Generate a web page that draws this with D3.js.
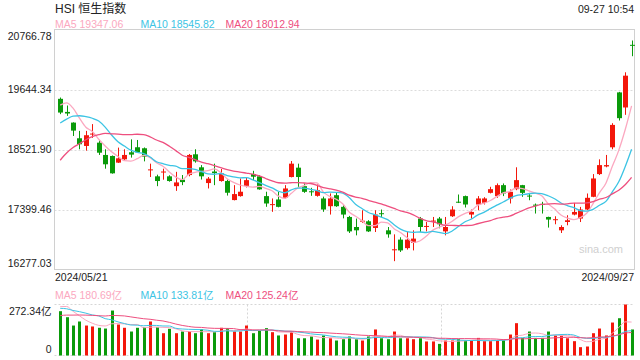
<!DOCTYPE html>
<html>
<head>
<meta charset="utf-8">
<script src="https://cdn.jsdelivr.net/npm/d3@7/dist/d3.min.js"></script>
<style>
    body { margin: 0; background: #fff; }
    svg { display: block; font-family: "Liberation Sans", Arial, "Noto Sans CJK SC", sans-serif; }
</style>
</head>
<body>
<div id="chart"></div>
<script>
// Daily candles, 2024/05/21 .. 2024/09/27 (HSI, points)
let opens = [19470, 19225, 19025, 18732, 18588, 18805, 18650, 18420, 18401, 18276,
    18338, 18470, 18564, 18545, 18134, 18020, 18095, 18020, 17836, 17957,
    18044, 18432, 18189, 17894, 18110, 17932, 17932, 17576, 17650, 17842,
    18063, 18020, 17650, 17485, 17587, 17618, 18007, 18182, 17836, 17740,
    17655, 17606, 17461, 17667, 17449, 17260, 17072, 17175, 17179, 17054,
    17330, 17010, 16640, 16836, 16677, 16773, 17230, 17078, 17178, 17230,
    16990, 17273, 17545, 17650, 17305, 17493, 17524, 17711, 17650, 17855,
    17606, 17780, 17855, 17660, 17490, 17505, 17260, 17205, 17010, 17166,
    17305, 17230, 17399, 17637, 18062, 18205, 18563, 19590, 19308, 20480];
let highs = [19494, 19345, 19030, 18870, 18870, 18997, 18700, 18526, 18410, 18557,
    18526, 18712, 18700, 18560, 18257, 18051, 18163, 18040, 18104, 18044,
    18438, 18526, 18230, 18007, 18257, 18157, 17960, 17855, 17980, 18000,
    18123, 18040, 17732, 17606, 17732, 17855, 18306, 18257, 17886, 17805,
    17867, 17640, 17700, 17710, 17480, 17280, 17230, 17385, 17200, 17385,
    17399, 17072, 16935, 16880, 16978, 17010, 17260, 17165, 17260, 17260,
    17260, 17461, 17680, 17660, 17399, 17650, 17630, 17824, 17887, 17887,
    17774, 18189, 17860, 17711, 17511, 17543, 17265, 17273, 17104, 17292,
    17523, 17448, 17699, 18062, 18338, 18420, 19014, 19600, 19966, 20561];
let lows = [19183, 19151, 18775, 18526, 18500, 18740, 18420, 18163, 18070, 18270,
    18326, 18370, 18465, 18300, 18007, 17836, 17957, 17920, 17748, 17855,
    18020, 18276, 17960, 17793, 17855, 17920, 17660, 17570, 17640, 17812,
    17949, 17770, 17450, 17356, 17440, 17606, 18000, 17823, 17711, 17655,
    17640, 17356, 17305, 17449, 17234, 16960, 16916, 17150, 16978, 16978,
    17260, 16872, 16433, 16605, 16650, 16634, 16978, 16990, 17072, 17048,
    16916, 17260, 17520, 17437, 17230, 17386, 17493, 17700, 17618, 17650,
    17512, 17761, 17637, 17573, 17324, 17324, 17061, 17123, 16960, 17104,
    17290, 17165, 17390, 17630, 18044, 18189, 18526, 19064, 19170, 20267];
let closes = [19213, 19195, 18875, 18620, 18789, 18820, 18462, 18245, 18076, 18357,
    18420, 18426, 18470, 18388, 18150, 17932, 18110, 17932, 17906, 17912,
    18420, 18300, 18020, 17977, 18080, 18076, 17713, 17688, 17732, 17949,
    18013, 17776, 17512, 17500, 17449, 17793, 18257, 18007, 17730, 17725,
    17761, 17399, 17606, 17461, 17305, 16990, 17010, 17190, 16990, 17305,
    17318, 16935, 16655, 16634, 16836, 16855, 17072, 17092, 17192, 17123,
    17072, 17399, 17526, 17493, 17354, 17606, 17606, 17780, 17855, 17700,
    17730, 17949, 17711, 17650, 17480, 17499, 17211, 17218, 17072, 17198,
    17354, 17399, 17618, 17980, 18230, 18230, 18982, 19108, 19903, 20467];
// turnover, 亿
let volumes = [236.6, 204.5, 160, 181.6, 160, 155, 148, 144, 240, 165.5,
    148, 128, 148, 151, 181.6, 151, 119, 142.6, 119, 128,
    130, 119, 140, 119, 124.5, 148, 146, 128, 128, 160,
    119, 133.5, 146, 124.5, 107, 112, 130, 92, 92, 101.5,
    85, 107, 92, 80, 87, 101.5, 87, 80, 101.5, 139,
    92, 87, 128, 92, 92, 87, 92, 75, 75, 62,
    80, 80, 87, 80, 80, 94, 76.5, 76.5, 80, 83.6,
    112, 172.6, 94, 128, 94, 94, 128, 107, 107, 92,
    76.5, 44.5, 48, 119, 144, 107, 176, 199, 272.34, 139];
// sessions before the first visible candle, only feed the moving averages
let priorCloses = [16511, 16828, 17201, 17284, 17651, 17747, 17763, 18207, 18476, 18578,
    18479, 18313, 18538, 18964, 19115, 18988, 19376, 19553, 19636];
let priorVolumes = [150, 160, 170, 175, 180, 185, 175, 180, 180, 185,
    230, 250, 245, 240, 250, 200, 290, 300, 278];

let priceTicks = [16277.03, 17399.46, 18521.90, 19644.34, 20766.78];
let volumeTicks = [0, 272.34];
let dateLabels = ['2024/05/21', '2024/09/27'];
let maPeriods = [5, 10, 20];
let priceLegend = ['MA5 19347.06', 'MA10 18545.82', 'MA20 18012.94'];
let volumeLegend = ['MA5 180.69亿', 'MA10 133.81亿', 'MA20 125.24亿'];

let maColors = ['#fba8c0', '#3cc4e4', '#ee4f7f'];
let upColor = '#f3170b';
let downColor = '#0a9a0a';

let svgWidth = 640;
let svgHeight = 360;
let plot = { left: 54.5, right: 634.5, top: 29.5, bottom: 269.5 };
let volPlot = { top: 304.5, bottom: 355.5 };

let $svg = d3.select('#chart')
    .append('svg')
    .attr('width', svgWidth)
    .attr('height', svgHeight);

let n = closes.length;
let idx = d3.range(n);

let xScale = d3.scaleBand()
    .domain(idx)
    .range([57, 634.8]);
let cx = i => xScale(i) + xScale.bandwidth() / 2;
let bodyW = 5;

let yScale = d3.scaleLinear()
    .domain([priceTicks[0], priceTicks[priceTicks.length - 1]])
    .range([plot.bottom, plot.top]);

let vScale = d3.scaleLinear()
    .domain([0, volumeTicks[1]])
    .range([volPlot.bottom, volPlot.top]);

function movingAverage(values, prior, period) {
    let all = prior.concat(values);
    return values.map((v, i) => {
        let end = prior.length + i + 1;
        return d3.mean(all.slice(end - period, end));
    });
}

let isUp = i => closes[i] > opens[i] || (closes[i] === opens[i] && i > 0 && closes[i] >= closes[i - 1]);

// ---- header texts
$svg.append('text')
    .attr('x', 55).attr('y', 12.5)
    .attr('font-size', 12).attr('fill', '#222')
    .text('HSI 恒生指数');

$svg.append('text')
    .attr('x', 634).attr('y', 12.5)
    .attr('text-anchor', 'end')
    .attr('font-size', 10.5).attr('fill', '#222')
    .text('09-27 10:54');

let legendX = [55, 140.5, 225.5];
priceLegend.forEach((t, k) => {
    $svg.append('text')
        .attr('x', legendX[k]).attr('y', 27.5)
        .attr('font-size', 10.5).attr('fill', maColors[k])
        .text(t);
});

// ---- price grid + frame
let midTicks = priceTicks.slice(1, -1);
$svg.append('g')
    .selectAll('line')
    .data(midTicks)
    .enter()
    .append('line')
    .attr('x1', plot.left).attr('x2', plot.right)
    .attr('y1', d => Math.round(yScale(d)) + 0.5)
    .attr('y2', d => Math.round(yScale(d)) + 0.5)
    .attr('stroke', '#dcdcdc')
    .attr('stroke-dasharray', '2,2');

$svg.append('rect')
    .attr('x', plot.left).attr('y', plot.top)
    .attr('width', plot.right - plot.left)
    .attr('height', plot.bottom - plot.top)
    .attr('fill', 'none')
    .attr('stroke', '#d0d0d0');

let leftAxis = d3.axisLeft(yScale)
    .tickValues(priceTicks)
    .tickSize(0)
    .tickPadding(3)
    .tickFormat(d => d.toFixed(2));

let yAxisG = $svg.append('g')
    .attr('transform', `translate(${plot.left}, 0)`)
    .call(leftAxis);
yAxisG.select('.domain').remove();
yAxisG.selectAll('text')
    .attr('font-size', 10.5)
    .attr('font-family', '"Liberation Sans", Arial, sans-serif')
    .attr('fill', '#222')
    .attr('dy', (d, k) => k === 0 ? '-0.25em' : (k === priceTicks.length - 1 ? '0.95em' : '0.32em'));

// watermark
$svg.append('text')
    .attr('x', 623).attr('y', 253)
    .attr('text-anchor', 'end')
    .attr('font-size', 11)
    .attr('fill', '#cfcfcf')
    .text('sina.com');

// ---- candles
let candleG = $svg.append('g');
candleG.selectAll('line')
    .data(idx)
    .enter()
    .append('line')
    .attr('x1', i => Math.round(cx(i)) + 0.5)
    .attr('x2', i => Math.round(cx(i)) + 0.5)
    .attr('y1', i => yScale(highs[i]))
    .attr('y2', i => yScale(lows[i]))
    .attr('stroke', i => isUp(i) ? upColor : downColor);

candleG.selectAll('rect')
    .data(idx)
    .enter()
    .append('rect')
    .attr('x', i => Math.round(cx(i)) + 0.5 - bodyW / 2)
    .attr('y', i => yScale(Math.max(opens[i], closes[i])))
    .attr('width', bodyW)
    .attr('height', i => Math.max(1, Math.abs(yScale(opens[i]) - yScale(closes[i]))))
    .attr('fill', i => isUp(i) ? upColor : downColor);

// ---- price moving averages
let priceLine = d3.line()
    .x((d, i) => cx(i))
    .y(d => yScale(d))
    .curve(d3.curveMonotoneX);

maPeriods.forEach((p, k) => {
    $svg.append('path')
        .datum(movingAverage(closes, priorCloses, p))
        .attr('d', priceLine)
        .attr('fill', 'none')
        .attr('stroke', maColors[k])
        .attr('stroke-width', 1.3);
});

// ---- dates
$svg.append('text')
    .attr('x', 55).attr('y', 281)
    .attr('font-size', 10.5).attr('fill', '#222')
    .text(dateLabels[0]);
$svg.append('text')
    .attr('x', 634).attr('y', 281)
    .attr('text-anchor', 'end')
    .attr('font-size', 10.5).attr('fill', '#222')
    .text(dateLabels[1]);

// ---- volume panel
volumeLegend.forEach((t, k) => {
    $svg.append('text')
        .attr('x', legendX[k]).attr('y', 299)
        .attr('font-size', 10.5).attr('fill', maColors[k])
        .text(t);
});

let volGrid = $svg.append('g')
    .attr('stroke', '#d6d6d6')
    .attr('stroke-dasharray', '2,2');
volGrid.append('line')
    .attr('x1', plot.left).attr('x2', plot.right)
    .attr('y1', volPlot.top).attr('y2', volPlot.top);
volGrid.append('line')
    .attr('x1', plot.left).attr('x2', plot.right)
    .attr('y1', volPlot.bottom).attr('y2', volPlot.bottom);
[1 / 3, 2 / 3].forEach(f => {
    let xv = Math.round(plot.left + (plot.right - plot.left) * f - 0.5) + 0.5;
    volGrid.append('line')
        .attr('x1', xv).attr('x2', xv)
        .attr('y1', volPlot.top).attr('y2', volPlot.bottom);
});

let volAxis = d3.axisLeft(vScale)
    .tickValues(volumeTicks)
    .tickSize(0)
    .tickPadding(3)
    .tickFormat(d => d === 0 ? '0' : d.toFixed(2) + '亿');

let vAxisG = $svg.append('g')
    .attr('transform', `translate(${plot.left}, 0)`)
    .call(volAxis);
vAxisG.select('.domain').remove();
vAxisG.selectAll('text')
    .attr('font-size', 10.5)
    .attr('font-family', '"Liberation Sans", Arial, "Noto Sans CJK SC", sans-serif')
    .attr('fill', '#222')
    .attr('dy', (d, k) => k === 0 ? '-0.3em' : '0.95em');

$svg.append('g')
    .selectAll('rect')
    .data(idx)
    .enter()
    .append('rect')
    .attr('x', i => Math.round(cx(i)) + 0.5 - 1.5)
    .attr('y', i => vScale(volumes[i]))
    .attr('width', 3)
    .attr('height', i => vScale(0) - vScale(volumes[i]))
    .attr('fill', i => isUp(i) ? upColor : downColor);

let volLine = d3.line()
    .x((d, i) => cx(i))
    .y(d => vScale(d))
    .curve(d3.curveMonotoneX);

maPeriods.forEach((p, k) => {
    $svg.append('path')
        .datum(movingAverage(volumes, priorVolumes, p))
        .attr('d', volLine)
        .attr('fill', 'none')
        .attr('stroke', maColors[k])
        .attr('stroke-width', 1);
});
</script>
</body>
</html>
